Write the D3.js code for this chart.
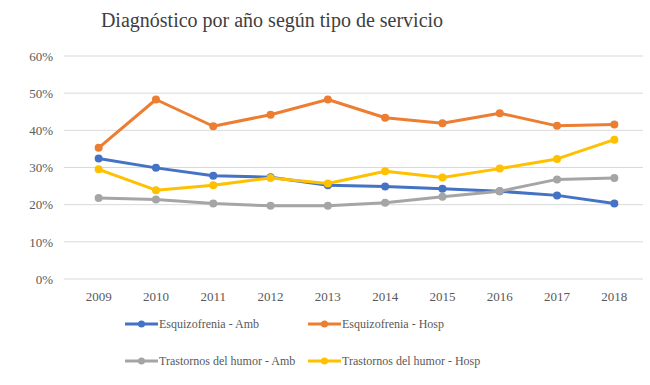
<!DOCTYPE html>
<html>
  <head>
    <meta charset="utf-8">
    <title>Diagnóstico por año según tipo de servicio</title>
    <script src="https://d3js.org/d3.v7.min.js"></script>
    <style>
      body { margin: 0; background: #fff; }
      svg text { font-family: "Liberation Serif", "DejaVu Serif", "Times New Roman", serif; }
    </style>
  </head>
  <body>
    <div id="chart"></div>
    <script>
      // datos (porcentaje)
      const years = ["2009","2010","2011","2012","2013","2014","2015","2016","2017","2018"];
      const esqAmb  = [32.4, 29.9, 27.8, 27.4, 25.2, 24.9, 24.3, 23.6, 22.5, 20.3];
      const esqHosp = [35.3, 48.3, 41.1, 44.2, 48.3, 43.4, 41.9, 44.6, 41.2, 41.6];
      const trAmb   = [21.8, 21.4, 20.3, 19.7, 19.7, 20.5, 22.1, 23.6, 26.8, 27.2];
      const trHosp  = [29.5, 23.9, 25.2, 27.2, 25.7, 29.0, 27.3, 29.7, 32.3, 37.5];
      const yTicks = [0, 10, 20, 30, 40, 50, 60];

      const series = [
        {name: "Esquizofrenia - Amb", values: esqAmb, color: "#4472C4"},
        {name: "Esquizofrenia - Hosp", values: esqHosp, color: "#ED7D31"},
        {name: "Trastornos del humor - Amb", values: trAmb, color: "#A5A5A5"},
        {name: "Trastornos del humor - Hosp", values: trHosp, color: "#FFC000"}
      ];

      const width = 650, height = 385;
      const margin = {top: 56, right: 7, bottom: 106, left: 70};

      const svg = d3.select("#chart").append("svg")
                    .attr("width", width)
                    .attr("height", height);

      // título
      svg.append("text")
         .attr("x", 272)
         .attr("y", 27)
         .attr("text-anchor", "middle")
         .attr("font-size", 20)
         .attr("fill", "#404040")
         .text("Diagnóstico por año según tipo de servicio");

      const xScale = d3.scaleBand()
                       .domain(years)
                       .range([margin.left, width - margin.right]);
      const yScale = d3.scaleLinear()
                       .domain([0, 60])
                       .range([height - margin.bottom, margin.top]);

      // grid
      svg.append("g")
         .selectAll("line")
         .data(yTicks)
         .join("line")
         .attr("x1", margin.left - 6)
         .attr("x2", width - margin.right)
         .attr("y1", d => yScale(d))
         .attr("y2", d => yScale(d))
         .attr("stroke", "#d9d9d9")
         .attr("stroke-width", 1);

      // eje Y
      const yAxis = svg.append("g")
                       .attr("transform", `translate(${margin.left - 14}, 0)`)
                       .call(d3.axisLeft(yScale).tickValues(yTicks).tickSize(0).tickFormat(d => d + "%"));
      yAxis.select(".domain").remove();
      yAxis.selectAll("text")
           .attr("font-size", 13)
           .attr("fill", "#595959");

      // eje X
      const xAxis = svg.append("g")
                       .attr("transform", `translate(0, ${height - margin.bottom + 10})`)
                       .call(d3.axisBottom(xScale).tickSize(0));
      xAxis.select(".domain").remove();
      xAxis.selectAll("text")
           .attr("font-size", 13)
           .attr("fill", "#595959");

      // líneas
      const line = d3.line()
                     .x((d, i) => xScale(years[i]) + xScale.bandwidth() / 2)
                     .y(d => yScale(d));

      const g = svg.append("g");
      series.forEach(s => {
        g.append("path")
         .datum(s.values)
         .attr("d", line)
         .attr("fill", "none")
         .attr("stroke", s.color)
         .attr("stroke-width", 3)
         .attr("stroke-linejoin", "round");
        g.selectAll(null)
         .data(s.values)
         .join("circle")
         .attr("cx", (d, i) => xScale(years[i]) + xScale.bandwidth() / 2)
         .attr("cy", d => yScale(d))
         .attr("r", 4)
         .attr("fill", s.color);
      });

      // leyenda
      const legendPos = [[125, 324], [308, 324], [125, 361], [308, 361]];
      const legend = svg.append("g")
                        .selectAll("g")
                        .data(series)
                        .join("g")
                        .attr("transform", (d, i) => `translate(${legendPos[i][0]}, ${legendPos[i][1]})`);
      legend.append("line")
            .attr("x1", 0).attr("x2", 33)
            .attr("stroke", d => d.color)
            .attr("stroke-width", 3);
      legend.append("circle")
            .attr("cx", 16.5).attr("r", 3.5)
            .attr("fill", d => d.color);
      legend.append("text")
            .attr("x", 34)
            .attr("dy", "0.35em")
            .attr("font-size", 12)
            .attr("fill", "#595959")
            .text(d => d.name);
    </script>
  </body>
</html>
